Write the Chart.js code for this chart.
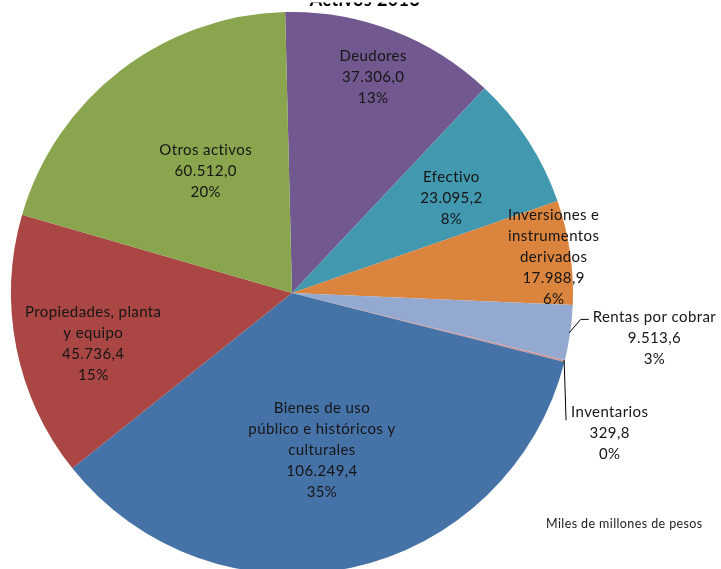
<!DOCTYPE html>
<html>
<head>
<meta charset="utf-8">
<script src="https://cdn.jsdelivr.net/npm/chart.js@4/dist/chart.umd.min.js"></script>
<style>
  html, body { margin: 0; padding: 0; background: #ffffff; overflow: hidden; }
  #wrap { position: absolute; left: 0; top: 0; width: 721px; height: 580px; }
</style>
</head>
<body>
<div id="wrap"><canvas id="c" width="721" height="580"></canvas></div>
<script>
// ---- data ----
const categories = ["Deudores", "Efectivo", "Inversiones e instrumentos derivados", "Rentas por cobrar",
  "Inventarios", "Bienes de uso público e históricos y culturales", "Propiedades, planta y equipo", "Otros activos"];
const labelLines = [["Deudores"], ["Efectivo"], ["Inversiones e", "instrumentos", "derivados"], ["Rentas por cobrar"],
  ["Inventarios"], ["Bienes de uso", "público e históricos y", "culturales"], ["Propiedades, planta", "y equipo"], ["Otros activos"]];
const values = [37306.0, 23095.2, 17988.9, 9513.6, 329.8, 106249.4, 45736.4, 60512.0];
const percentLabels = [13, 8, 6, 3, 0, 35, 15, 20];
const colors = ["#71588F", "#4198AF", "#DB843D", "#93A9CF", "#D19392", "#4572A7", "#AA4643", "#89A54E"];
const titleText = "Activos 2013";
const unitsText = "Miles de millones de pesos";

// label placement relative to each slice: radius fraction and angle shift (deg)
const labelPlace = [
  { r: 0.82, da: -0.3 },
  { r: 0.66, da: 2.2 },
  { r: 0.94, da: 0.5 },
  { r: 1.30, da: -1.0, leader: "elbow" },
  { r: 1.236, da: 9.8, leader: "drop" },
  { r: 0.57, da: 1.4 },
  { r: 0.73, da: -3.1 },
  { r: 0.53, da: 2.2 }
];

function fmt(v) {
  const parts = v.toFixed(1).split(".");
  const intPart = parts[0].replace(/\B(?=(\d{3})+(?!\d))/g, ".");
  return intPart + "," + parts[1];
}

const FONT = "Lato, 'Noto Sans', sans-serif";
const TXT = "#161616";
const LH = 21;

const labelPlugin = {
  id: "sliceLabels",
  afterDraw(chart) {
    const ctx = chart.ctx;
    const meta = chart.getDatasetMeta(0);
    ctx.save();
    ctx.fillStyle = TXT;
    ctx.strokeStyle = "#000";
    ctx.lineWidth = 1;
    ctx.font = "15px " + FONT;
    if ("letterSpacing" in ctx) ctx.letterSpacing = "0.4px";
    ctx.textAlign = "center";
    ctx.textBaseline = "middle";
    meta.data.forEach((arc, i) => {
      const p = arc.getProps(["x", "y", "startAngle", "endAngle", "outerRadius"], true);
      const mid = (p.startAngle + p.endAngle) / 2;
      const pl = labelPlace[i];
      const a = mid + pl.da * Math.PI / 180;
      const cx = p.x + Math.cos(a) * p.outerRadius * pl.r;
      const cy = p.y + Math.sin(a) * p.outerRadius * pl.r;
      const lines = labelLines[i].concat([fmt(values[i]), percentLabels[i] + "%"]);
      const top = cy - (lines.length - 1) * LH / 2;
      lines.forEach((t, k) => ctx.fillText(t, cx, top + k * LH));
      if (pl.leader) {
        const ex = p.x + Math.cos(mid) * p.outerRadius;
        const ey = p.y + Math.sin(mid) * p.outerRadius;
        const w0 = ctx.measureText(lines[0]).width;
        ctx.beginPath();
        if (pl.leader === "elbow") {
          const lx = cx - w0 / 2 - 4;
          const ly = top + 2;
          ctx.moveTo(ex - 1, ey);
          ctx.lineTo(lx - 8, ly);
          ctx.lineTo(lx, ly);
        } else {
          const lx = cx - w0 / 2 - 5;
          ctx.moveTo(ex - 0.5, ey - 1);
          ctx.lineTo(lx, top + 8);
        }
        ctx.stroke();
      }
    });
    // units note
    ctx.font = "12.5px " + FONT;
    ctx.fillStyle = "#222";
    ctx.textAlign = "left";
    ctx.textBaseline = "middle";
    ctx.fillText(unitsText, 546, 524);
    // title (mostly cut off at the top of the picture)
    ctx.save();
    ctx.beginPath();
    ctx.rect(0, 2.5, chart.width, 10);
    ctx.clip();
    ctx.font = "bold 18px " + FONT;
    ctx.textAlign = "center";
    ctx.textBaseline = "alphabetic";
    ctx.fillStyle = "#000";
    ctx.fillText(titleText, 365, 6);
    ctx.restore();
    ctx.restore();
  }
};

new Chart(document.getElementById("c"), {
  type: "pie",
  data: {
    labels: categories,
    datasets: [{
      data: values,
      backgroundColor: colors,
      borderWidth: 0
    }]
  },
  options: {
    responsive: false,
    animation: false,
    rotation: -1.4,
    layout: { padding: { left: 11, right: 148, top: 12, bottom: 6 } },
    plugins: { legend: { display: false }, tooltip: { enabled: false }, title: { display: false } }
  },
  plugins: [labelPlugin]
});
</script>
</body>
</html>
